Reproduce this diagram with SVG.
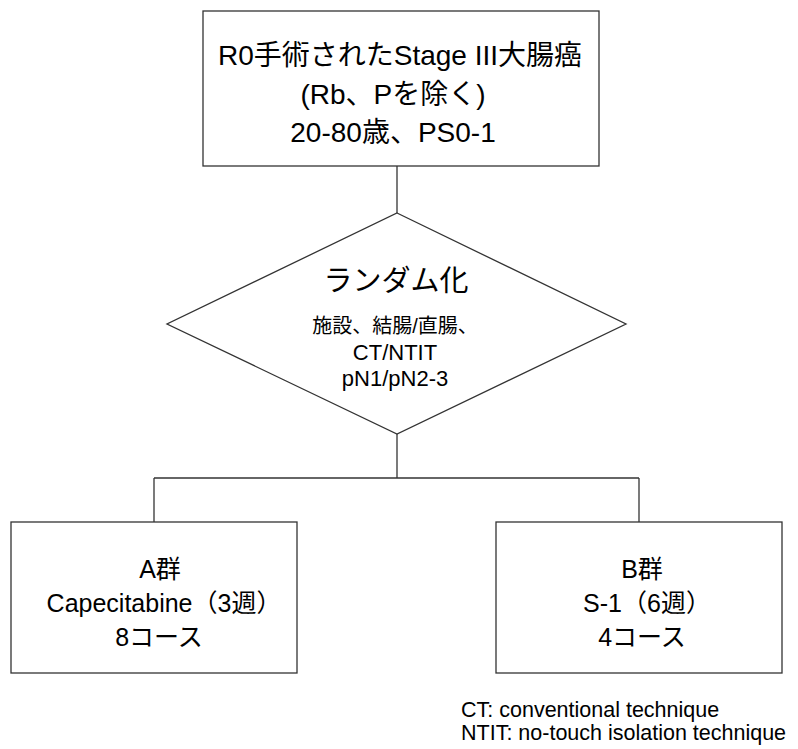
<svg xmlns="http://www.w3.org/2000/svg" width="798" height="749" viewBox="0 0 798 749">
<style>
.shape{fill:#fff;stroke:#333;stroke-width:1.3}
.conn{fill:none;stroke:#333;stroke-width:1.3}
text{font-family:"Liberation Sans","Noto Sans CJK JP",sans-serif;fill:#000;text-anchor:middle}
.t28{font-size:28px}
.t29{font-size:29px}
.t20{font-size:20px}
.t22{font-size:22px}
.t25{font-size:25px}
.note{font-size:21.5px;text-anchor:start}
</style>
<rect width="798" height="749" fill="#fff"/>
<g id="connectors">
<path class="conn" d="M397,166V213"/>
<path class="conn" d="M397,434V478"/>
<path class="conn" d="M154,478H639"/>
<path class="conn" d="M154,478V522"/>
<path class="conn" d="M639,478V522"/>
</g>
<g id="eligibility">
<rect class="shape" x="203" y="11" width="396" height="155"/>
<text class="t28" x="400" y="65">R0手術されたStage III大腸癌</text>
<text class="t28" x="393" y="104">(Rb、Pを除く)</text>
<text class="t28" x="393" y="142">20-80歳、PS0-1</text>
</g>
<g id="randomization">
<polygon class="shape" points="397,213 626,324 397,434 167,324"/>
<text class="t29" x="396" y="291">ランダム化</text>
<text class="t20" x="395" y="333">施設、結腸/直腸、</text>
<text class="t22" x="395" y="360">CT/NTIT</text>
<text class="t22" x="395" y="386">pN1/pN2-3</text>
</g>
<g id="groupA">
<rect class="shape" x="11" y="522" width="286" height="151"/>
<text class="t25" x="160" y="578">A群</text>
<text class="t25" x="164" y="612">Capecitabine（3週）</text>
<text class="t25" x="159" y="646">8コース</text>
</g>
<g id="groupB">
<rect class="shape" x="496" y="522" width="286" height="151"/>
<text class="t25" x="642" y="578">B群</text>
<text class="t25" x="647" y="612">S-1（6週）</text>
<text class="t25" x="642" y="646">4コース</text>
</g>
<g id="legend">
<text class="note" x="461" y="717">CT: conventional technique</text>
<text class="note" x="461" y="740">NTIT: no-touch isolation technique</text>
</g>
</svg>
